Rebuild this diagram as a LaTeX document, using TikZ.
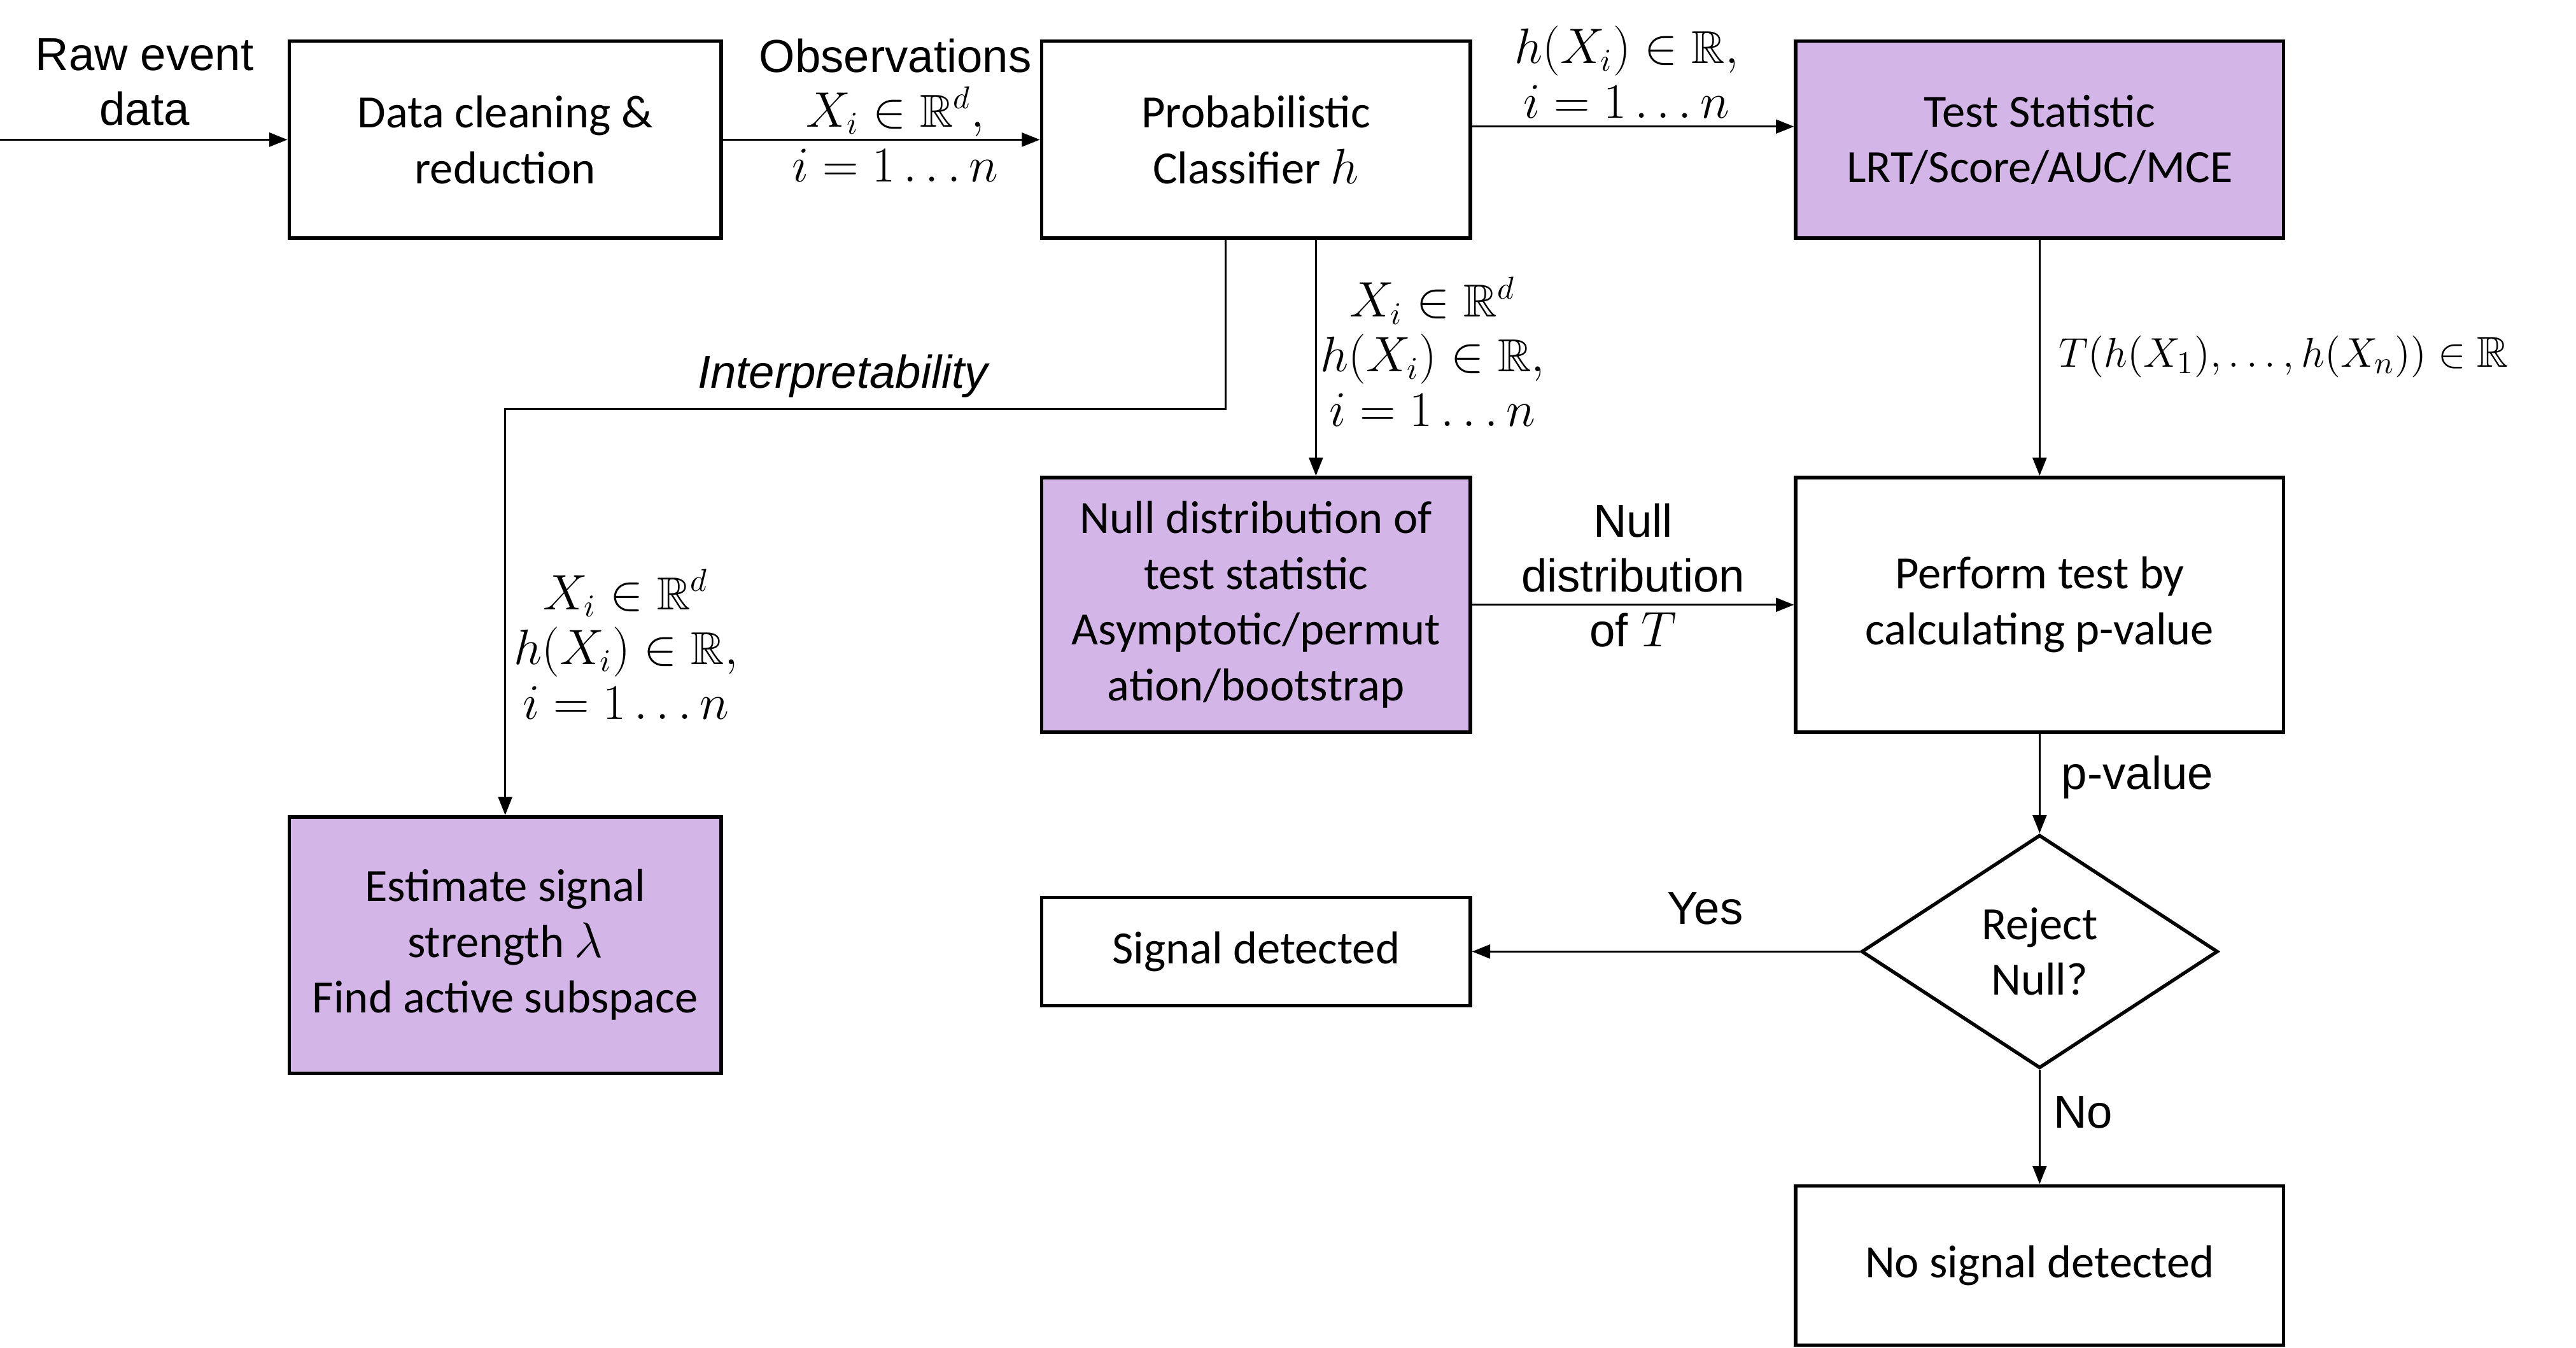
\documentclass[tikz,border=0pt]{standalone}
\usepackage{amsmath,amssymb}
\usepackage{fontspec}
\setmainfont{Carlito}
\newfontfamily\arialfont{Liberation Sans}
\usepackage{tikz}
\usetikzlibrary{arrows.meta,shapes.geometric}

\definecolor{nullpurple}{RGB}{212,181,232}
\newcommand{\boxfont}{\fontsize{16}{19.3}\selectfont}
\newcommand{\lblfont}{\arialfont\fontsize{16}{19}\selectfont}

\begin{document}
\begin{tikzpicture}[x=0.02cm, y=-0.02cm,
	stage/.style={draw, line width=1.2pt, align=center, font=\boxfont, inner sep=2pt},
	tinted/.style={fill=nullpurple},
	conn/.style={-{Triangle[length=0.22cm,width=0.17cm]}, line width=0.6pt},
	lbl/.style={align=center, font=\lblfont, inner sep=1pt}]
	\useasboundingbox (0,0) rectangle (1568,820);
	% boxes
	\node[stage, minimum width=5.26cm, minimum height=2.4cm] (clean) at (307.5,85) {Data cleaning \&\\reduction};
	\node[stage, minimum width=5.22cm, minimum height=2.4cm] (cls) at (764.5,85) {Probabilistic\\Classifier $h$};
	\node[stage, tinted, minimum width=5.94cm, minimum height=2.4cm] (test) at (1241.5,85) {Test Statistic\\LRT/Score/AUC/MCE};
	\node[stage, tinted, minimum width=5.22cm, minimum height=3.1cm] (null) at (764.5,368) {Null distribution of\\test statistic\\Asymptotic/permut\\ation/bootstrap};
	\node[stage, minimum width=5.94cm, minimum height=3.1cm] (perf) at (1241.5,368) {Perform test by\\calculating p-value};
	\node[stage, tinted, minimum width=5.26cm, minimum height=3.12cm] (est) at (307.5,575) {Estimate signal\\strength $\lambda$\\Find active subspace};
	\node[stage, minimum width=5.22cm, minimum height=1.32cm] (sig) at (764.5,579) {Signal detected};
	\node[stage, diamond, aspect=1.53, inner sep=0pt, minimum width=4.34cm, minimum height=2.84cm] (rej) at (1241.5,579) {Reject\\Null?};
	\node[stage, minimum width=5.94cm, minimum height=1.94cm] (nosig) at (1241.5,770) {No signal detected};
	% connectors
	\coordinate (rawin) at (0,85);
	\coordinate (ibend) at (307.5,249);
	\draw[conn] (rawin) -- (clean.west);
	\draw[conn] (clean) -- (cls);
	\draw[conn] ([yshift=0.16cm]cls.east) -- ([yshift=0.16cm]test.west);
	\draw[conn] ([xshift=0.73cm]cls.south) -- ([xshift=0.73cm]null.north);
	\draw[conn] ([xshift=-0.37cm]cls.south) |- (ibend) -- (est.north);
	\draw[conn] (test) -- (perf);
	\draw[conn] (null) -- (perf);
	\draw[conn] (perf) -- (rej);
	\draw[conn] (rej) -- (sig);
	\draw[conn] (rej) -- (nosig);
	% labels
	\node[lbl] (rawlbl) at (88,50) {Raw event\\data};
	\node[lbl] (obslbl) at (545,67) {Observations\\$X_i \in \mathbb{R}^d,$\\$i = 1 \ldots n$};
	\node[lbl] (hxlbl) at (990,44) {$h(X_i) \in \mathbb{R},$\\$i = 1 \ldots n$};
	\node[lbl] (clslbl) at (872,214) {$X_i \in \mathbb{R}^d$\\$h(X_i) \in \mathbb{R},$\\$i = 1 \ldots n$};
	\node[lbl] (estlbl) at (381,392) {$X_i \in \mathbb{R}^d$\\$h(X_i) \in \mathbb{R},$\\$i = 1 \ldots n$};
	\node[lbl, font=\lblfont\itshape] (interplbl) at (513,229) {Interpretability};
	\node[lbl, anchor=west, font=\arialfont\fontsize{15}{18}\selectfont] (tlbl) at (1251,217) {$T(h(X_1),\ldots,h(X_n)) \in \mathbb{R}$};
	\node[lbl] (nulllbl) at (994,350) {Null\\distribution\\of $T$};
	\node[lbl] (pvallbl) at (1301,473) {p-value};
	\node[lbl] (yeslbl) at (1038,553) {Yes};
	\node[lbl] (nolbl) at (1268,677) {No};
\end{tikzpicture}
\end{document}
